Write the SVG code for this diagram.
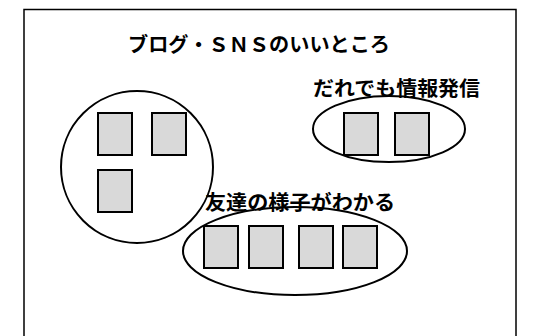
<svg xmlns="http://www.w3.org/2000/svg" width="541" height="336" viewBox="0 0 541 336">
<style>
.frame{fill:#fff;stroke:#000;stroke-width:1.5}
.grp{fill:none;stroke:#000;stroke-width:2}
.card{fill:#d9d9d9;stroke:#000;stroke-width:2}
.lbl{font-family:"Noto Sans CJK JP","Noto Sans",sans-serif;font-weight:bold;font-size:20px;fill:#000}
</style>
<rect width="541" height="336" fill="#fff"/>
<g id="frame"><rect class="frame" x="24" y="9.5" width="492" height="340"/></g>
<g id="title"><text class="lbl" x="128" y="52" textLength="262" lengthAdjust="spacingAndGlyphs">ブログ・ＳＮＳのいいところ</text></g>
<g id="left-group">
<ellipse class="grp" cx="137" cy="167" rx="76" ry="76"/>
<rect class="card" x="98" y="113" width="34" height="42"/>
<rect class="card" x="152" y="113" width="34" height="42"/>
<rect class="card" x="98" y="170" width="34" height="42"/>
</g>
<g id="right-group">
<ellipse class="grp" cx="389" cy="129" rx="76" ry="33"/>
<rect class="card" x="344" y="113" width="34" height="42"/>
<rect class="card" x="395" y="113" width="34" height="42"/>
<text class="lbl" x="313" y="96" textLength="167" lengthAdjust="spacingAndGlyphs">だれでも情報発信</text>
</g>
<g id="bottom-group">
<ellipse class="grp" cx="295" cy="251" rx="112" ry="44"/>
<rect class="card" x="204" y="226" width="34" height="42"/>
<rect class="card" x="249" y="226" width="34" height="42"/>
<rect class="card" x="299" y="226" width="34" height="42"/>
<rect class="card" x="343" y="226" width="34" height="42"/>
<text class="lbl" x="205" y="210" textLength="190" lengthAdjust="spacingAndGlyphs">友達の様子がわかる</text>
</g>
<g id="connectors"></g>
</svg>
